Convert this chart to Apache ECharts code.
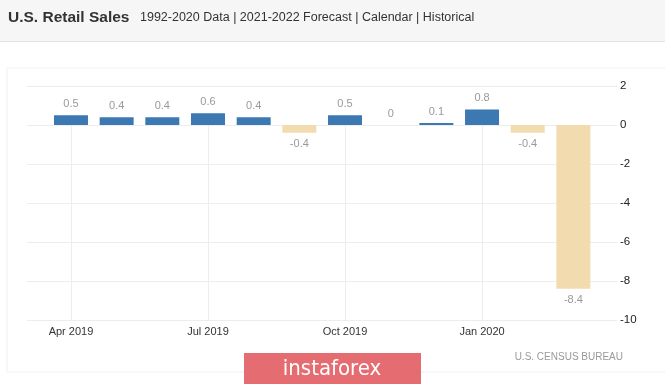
<!DOCTYPE html>
<html><head><meta charset="utf-8">
<script src="https://cdn.jsdelivr.net/npm/echarts@6/dist/echarts.min.js"></script>
<style>html,body{margin:0;padding:0;background:#fff;}#c{width:665px;height:384px;}</style>
</head><body><div id="c"></div>
<script>
const months = ['Apr 2019','May 2019','Jun 2019','Jul 2019','Aug 2019','Sep 2019','Oct 2019','Nov 2019','Dec 2019','Jan 2020','Feb 2020','Mar 2020'];
const values = [0.5, 0.4, 0.4, 0.6, 0.4, -0.4, 0.5, 0, 0.1, 0.8, -0.4, -8.4];
const labeledIdx = [0, 3, 6, 9];
const yTicks = [2, 0, -2, -4, -6, -8, -10];

const chart = echarts.init(document.getElementById('c'));
const F = '"Liberation Sans", Arial, sans-serif';
chart.setOption({
  animation: false,
  backgroundColor: '#fff',
  graphic: [
    {type:'rect', shape:{x:0,y:0,width:665,height:41}, style:{fill:'#f6f6f6'}, z:-10},
    {type:'rect', shape:{x:0,y:41,width:665,height:1}, style:{fill:'#e4e4e4'}, z:-10},
    {type:'rect', shape:{x:7,y:68,width:700,height:304}, style:{fill:'none', stroke:'#efefef', lineWidth:1}, z:-10},
    {type:'text', left:8, top:10, style:{text:'U.S. Retail Sales', font:'bold 15.5px '+F, fill:'#333'}},
    {type:'text', left:140, top:11, style:{text:'1992-2020 Data | 2021-2022 Forecast | Calendar | Historical', font:'12.5px '+F, fill:'#333'}},
    {type:'text', right:42, top:352, style:{text:'U.S. CENSUS BUREAU', font:'10px '+F, fill:'#999'}},
    {type:'rect', shape:{x:244,y:353,width:177,height:31}, style:{fill:'rgba(224,82,88,0.85)'}, z:10},
    {type:'text', x:332, y:369, z:11, style:{text:'instaforex', font:'22px "DejaVu Sans Condensed", "Liberation Sans Narrow", sans-serif', fill:'#fff', textAlign:'center', textVerticalAlign:'middle'}}
  ],
  grid: {left:27, right:48, top:86, bottom:64},
  xAxis: {
    type:'value', min:-0.963, max:11.955,
    axisLine:{show:false}, axisTick:{show:false}, splitLine:{show:false},
    axisLabel:{
      customValues: labeledIdx,
      formatter: v => months[Math.round(v)] || '',
      color:'#333', fontSize:11, fontFamily:F, margin:6
    }
  },
  yAxis: {
    type:'value', position:'right', min:-10, max:2, interval:2,
    axisLine:{show:false}, axisTick:{show:false},
    splitLine:{lineStyle:{color:'#ededed'}},
    axisLabel:{color:'#222', fontSize:11.5, fontFamily:F, margin:3, align:'left'}
  },
  series: [{
    type:'bar', barWidth:34,
    data: values.map((v,i)=>({
      value:[i,v],
      itemStyle:{color: v < 0 ? '#f3dbb0' : '#3c79b3'},
      label:{show:true, position: v < 0 ? 'bottom' : 'top', distance:6, formatter: String(v), color:'#999', fontSize:11, fontFamily:F}
    })),
    markLine: {
      silent:true, symbol:'none', label:{show:false}, z:-1,
      lineStyle:{color:'#ededed', type:'solid', width:1},
      data: labeledIdx.map(i=>[{coord:[i,0]},{coord:[i,-10]}])
    }
  }]
});
</script></body></html>
